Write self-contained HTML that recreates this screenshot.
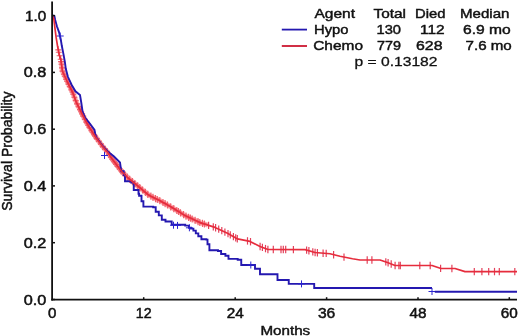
<!DOCTYPE html>
<html><head><meta charset="utf-8"><title>Survival Probability</title>
<style>
html,body{margin:0;padding:0;background:#fff;}
body{width:520px;height:336px;overflow:hidden;}
svg{display:block;filter:blur(0.4px);}
text{font-family:"Liberation Sans",Arial,Helvetica,sans-serif;font-size:136px;fill:#111;stroke:#111;stroke-width:4.5px;}
text.tk{font-size:141px;stroke-width:5px;}
text.yl{font-size:150px;stroke-width:5px;}
text.th{stroke-width:3px;}
</style></head><body>
<svg width="520" height="336" viewBox="0 0 520 336">
<rect width="520" height="336" fill="#fff"/>
<path d="M61.00 60.88 L62.50 71.25 L67.70 82.50 L72.70 92.50 L76.40 102.50 L80.80 111.25 L85.20 120.00 L90.20 128.75 L96.00 137.50 L102.50 146.25 L107.80 152.50 L112.00 158.75 L121.50 171.25 L127.50 177.50 L139.00 187.00 L148.50 195.00 L160.00 200.80 L172.50 207.80 L185.00 215.60 L200.00 222.60 L208.00 225.16" fill="none" stroke="#fb888c" stroke-width="5" opacity="0.7"/>
<g fill="none" stroke="#f05e6a" stroke-width="1.1"><path d="M58.3 46.3V53.5M55.3 49.9H61.3"/><path d="M58.8 48.7V55.9M55.8 52.3H61.8"/><path d="M59.6 52.2V59.4M56.6 55.8H62.6"/><path d="M60.7 55.6V62.8M57.7 59.2H63.7"/><path d="M61.1 58.0V65.2M58.1 61.6H64.1"/><path d="M61.5 60.7V67.9M58.5 64.3H64.5"/><path d="M62.0 64.3V71.5M59.0 67.9H65.0"/><path d="M62.5 67.5V74.7M59.5 71.1H65.5"/><path d="M63.9 70.7V77.9M60.9 74.3H66.9"/><path d="M64.8 72.6V79.8M61.8 76.2H67.8"/><path d="M66.3 75.8V83.0M63.3 79.4H69.3"/><path d="M67.1 77.6V84.8M64.1 81.2H70.1"/><path d="M68.5 80.5V87.7M65.5 84.1H71.5"/><path d="M69.8 83.0V90.2M66.8 86.6H72.8"/><path d="M71.4 86.3V93.5M68.4 89.9H74.4"/><path d="M72.4 88.4V95.6M69.4 92.0H75.4"/><path d="M73.3 90.6V97.8M70.3 94.2H76.3"/><path d="M74.4 93.6V100.8M71.4 97.2H77.4"/><path d="M75.7 97.0V104.2M72.7 100.6H78.7"/><path d="M77.1 100.3V107.5M74.1 103.9H80.1"/><path d="M78.5 103.2V110.4M75.5 106.8H81.5"/><path d="M80.0 106.0V113.2M77.0 109.6H83.0"/><path d="M81.1 108.2V115.4M78.1 111.8H84.1"/><path d="M82.1 110.3V117.5M79.1 113.9H85.1"/><path d="M83.2 112.5V119.7M80.2 116.1H86.2"/><path d="M84.8 115.7V122.9M81.8 119.3H87.8"/><path d="M86.4 118.5V125.7M83.4 122.1H89.4"/><path d="M87.4 120.2V127.4M84.4 123.8H90.4"/><path d="M88.4 121.9V129.1M85.4 125.5H91.4"/><path d="M89.6 124.0V131.2M86.6 127.6H92.6"/><path d="M91.5 127.1V134.3M88.5 130.7H94.5"/><path d="M92.6 128.7V135.9M89.6 132.3H95.6"/><path d="M94.1 131.1V138.3M91.1 134.7H97.1"/><path d="M95.2 132.7V139.9M92.2 136.3H98.2"/><path d="M96.8 135.0V142.2M93.8 138.6H99.8"/><path d="M98.8 137.6V144.8M95.8 141.2H101.8"/><path d="M100.9 140.5V147.7M97.9 144.1H103.9"/><path d="M102.8 143.0V150.2M99.8 146.6H105.8"/><path d="M104.9 145.5V152.7M101.9 149.1H107.9"/><path d="M107.0 147.9V155.1M104.0 151.5H110.0"/><path d="M109.1 150.8V158.0M106.1 154.4H112.1"/><path d="M110.9 153.5V160.7M107.9 157.1H113.9"/><path d="M112.2 155.5V162.7M109.2 159.1H115.2"/><path d="M113.9 157.7V164.9M110.9 161.3H116.9"/><path d="M115.1 159.3V166.5M112.1 162.9H118.1"/><path d="M116.3 160.9V168.1M113.3 164.5H119.3"/><path d="M117.8 162.8V170.0M114.8 166.4H120.8"/><path d="M119.7 165.3V172.5M116.7 168.9H122.7"/><path d="M121.2 167.2V174.4M118.2 170.8H124.2"/><path d="M123.1 169.3V176.5M120.1 172.9H126.1"/><path d="M125.3 171.6V178.8M122.3 175.2H128.3"/><path d="M127.2 173.6V180.8M124.2 177.2H130.2"/><path d="M129.7 175.7V182.9M126.7 179.3H132.7"/><path d="M132.5 178.0V185.2M129.5 181.6H135.5"/><path d="M134.9 180.0V187.2M131.9 183.6H137.9"/><path d="M137.7 182.3V189.5M134.7 185.9H140.7"/><path d="M139.8 184.1V191.3M136.8 187.7H142.8"/><path d="M142.6 186.4V193.6M139.6 190.0H145.6"/><path d="M145.4 188.8V196.0M142.4 192.4H148.4"/><path d="M147.8 190.8V198.0M144.8 194.4H150.8"/><path d="M150.9 192.6V199.8M147.9 196.2H153.9"/><path d="M153.0 193.7V200.9M150.0 197.3H156.0"/><path d="M155.5 195.0V202.2M152.5 198.6H158.5"/><path d="M157.3 195.9V203.1M154.3 199.5H160.3"/><path d="M159.8 197.1V204.3M156.8 200.7H162.8"/><path d="M163.0 198.9V206.1M160.0 202.5H166.0"/><path d="M165.1 200.0V207.2M162.1 203.6H168.1"/><path d="M167.5 201.4V208.6M164.5 205.0H170.5"/><path d="M170.7 203.2V210.4M167.7 206.8H173.7"/><path d="M173.8 205.0V212.2M170.8 208.6H176.8"/><path d="M176.8 206.9V214.1M173.8 210.5H179.8"/><path d="M178.5 207.9V215.1M175.5 211.5H181.5"/><path d="M180.5 209.2V216.4M177.5 212.8H183.5"/><path d="M183.6 211.1V218.3M180.6 214.7H186.6"/><path d="M186.0 212.5V219.7M183.0 216.1H189.0"/><path d="M188.6 213.7V220.9M185.6 217.3H191.6"/><path d="M190.4 214.5V221.7M187.4 218.1H193.4"/><path d="M192.2 215.4V222.6M189.2 219.0H195.2"/><path d="M195.1 216.7V223.9M192.1 220.3H198.1"/><path d="M198.0 218.1V225.3M195.0 221.7H201.0"/><path d="M199.8 218.9V226.1M196.8 222.5H202.8"/><path d="M202.5 219.8V227.0M199.5 223.4H205.5"/><path d="M204.4 220.4V227.6M201.4 224.0H207.4"/></g>
<g fill="none" stroke="#e4405a" stroke-width="1.2"><path d="M208.6 221.7V229.1"/><path d="M213.3 223.2V230.6"/><path d="M215.6 224.0V231.4"/><path d="M218.7 225.4V232.8"/><path d="M221.8 226.9V234.3"/><path d="M224.9 228.4V235.8"/><path d="M228.0 229.9V237.3"/><path d="M230.3 231.2V238.6"/><path d="M233.4 232.9V240.3"/><path d="M235.7 234.2V241.6"/><path d="M237.3 235.1V242.5"/><path d="M247.5 237.2V244.6"/><path d="M250.5 238.0V245.4"/><path d="M260.1 242.8V250.2"/><path d="M262.4 243.7V251.1"/><path d="M265.5 244.9V252.3"/><path d="M267.9 245.8V253.2"/><path d="M273.3 245.8V253.2"/><path d="M281.0 245.8V253.2"/><path d="M283.3 245.8V253.2"/><path d="M285.7 245.8V253.2"/><path d="M293.4 245.9V253.3"/><path d="M306.6 246.4V253.8"/><path d="M308.9 247.0V254.4"/><path d="M312.8 248.2V255.6"/><path d="M315.1 248.8V256.2"/><path d="M317.4 249.0V256.4"/><path d="M323.1 249.5V256.9"/><path d="M326.2 249.7V257.1"/><path d="M333.6 251.0V258.4"/><path d="M344.0 253.4V260.8"/><path d="M367.2 256.3V263.7"/><path d="M371.9 256.3V263.7"/><path d="M385.8 258.2V265.6"/><path d="M388.1 259.0V266.4"/><path d="M391.2 260.3V267.7"/><path d="M395.1 261.8V269.2"/><path d="M398.9 261.8V269.2"/><path d="M400.3 261.8V269.2"/><path d="M419.8 261.8V269.2"/><path d="M430.2 261.8V269.2"/><path d="M440.6 264.7V272.1"/><path d="M451.9 264.8V272.2"/><path d="M474.3 267.9V275.3"/><path d="M481.9 267.9V275.3"/><path d="M488.7 267.9V275.3"/><path d="M494.5 267.9V275.3"/><path d="M499.3 267.9V275.3"/><path d="M514.8 267.9V275.3"/></g>
<path d="M52.50 15.50 L54.40 16.00 L55.20 20.00 L56.90 26.30 L59.00 32.10 L60.80 39.50 L61.80 45.80 L63.50 54.40 L64.90 62.10 L65.80 68.80 L67.90 76.80 L71.70 85.00 L75.45 91.25 L80.00 95.00 L81.25 102.50 L82.50 111.25 L85.00 117.50 L90.00 123.75 L94.50 130.00 L95.20 134.00 L96.50 137.50 L102.90 146.25 L108.30 152.00 L113.75 156.25 L120.00 162.50 L121.25 171.25 H123.75 V175.00 H125.00 V181.25 H131.25 V182.50 H133.75 V190.00 H138.50 V193.75 H139.10 V195.70 H141.50 V201.20 H143.40 V206.60 H153.20 V207.20 H155.70 V211.70 H158.80 V215.40 H161.80 V219.70 H165.50 V221.50 H171.70 V224.80 H185.20 V225.60 H189.00 V227.70 H191.00 V228.60 H193.40 V230.60 H195.80 V233.40 H198.30 V236.20 H201.40 V239.20 H206.30 V239.60 H207.50 V244.20 H209.40 V250.30 H218.00 V251.00 H221.10 V254.00 H225.40 V255.80 H228.50 V258.90 H237.70 V259.80 H241.25 V265.00 H253.75 V265.00 H255.00 V268.75 H260.00 V274.25 H275.00 V274.25 H277.50 V280.00 H286.25 V280.00 H288.75 V283.90 H313.00 V283.90 H314.20 V288.00 H432.00 V288.00 H432.00 V288.00" fill="none" stroke="#2418b0" stroke-width="1.9" stroke-linejoin="miter"/>
<g fill="none" stroke="#2a24d0" stroke-width="1"><path d="M60.2 32.5V39.5M56.7 36.0H63.7"/><path d="M104.5 152.0V159.0M101.0 155.5H108.0"/><path d="M173.5 221.7V228.7M170.0 225.2H177.0"/><path d="M177.5 221.9V228.9M174.0 225.4H181.0"/><path d="M189.4 224.3V231.3M185.9 227.8H192.9"/><path d="M250.8 261.5V268.5M247.3 265.0H254.3"/><path d="M301.5 280.4V287.4M298.0 283.9H305.0"/><path d="M432.0 288.0V295.0M428.5 291.5H435.5"/></g>
<path d="M434.8 291.7H517" fill="none" stroke="#2418b0" stroke-width="1.9"/>
<path d="M52.50 15.50 L53.90 19.30 L55.00 28.60 L56.20 37.90 L57.70 47.20 L59.30 54.90 L60.80 59.50 L62.50 71.25 L67.70 82.50 L72.70 92.50 L76.40 102.50 L80.80 111.25 L85.20 120.00 L90.20 128.75 L96.00 137.50 L102.50 146.25 L107.80 152.50 L112.00 158.75 L121.50 171.25 L127.50 177.50 L139.00 187.00 L148.50 195.00 L160.00 200.80 L172.50 207.80 L185.00 215.60 L200.00 222.60 L215.00 227.40 L227.50 233.30 L237.50 238.90 L250.00 241.40 L260.00 246.50 L268.00 249.50 L305.00 249.60 L315.00 252.50 L330.00 253.75 L340.00 256.25 L352.50 258.75 L360.00 260.00 L380.00 260.00 L387.50 262.50 L395.00 265.50 L432.00 265.50 L441.00 268.50 L455.00 268.50 L465.00 271.60 L517.00 271.60" fill="none" stroke="#e62c3c" stroke-width="1.7" stroke-linejoin="round"/>
<g fill="none" stroke="#111" stroke-width="1.8">
<path d="M52.1 1.5V300.5"/><path d="M51.2 299.6H517"/>
</g>
<g fill="none" stroke="#111" stroke-width="1.5"><path d="M52 15.6H55"/><path d="M52 72.4H55"/><path d="M52 129.2H55"/><path d="M52 185.9H55"/><path d="M52 242.7H55"/><path d="M52 299.5H55"/><path d="M143.7 299.6V297.2"/><path d="M235.2 299.6V297.2"/><path d="M326.6 299.6V297.2"/><path d="M418.0 299.6V297.2"/><path d="M509.3 299.6V297.2"/></g>
<g transform="scale(0.1)"><text class="tk" x="463.0" y="206.0" textLength="212.0" lengthAdjust="spacingAndGlyphs" text-anchor="end">1.0</text><text class="tk" x="463.0" y="773.8" textLength="226.0" lengthAdjust="spacingAndGlyphs" text-anchor="end">0.8</text><text class="tk" x="463.0" y="1341.6" textLength="226.0" lengthAdjust="spacingAndGlyphs" text-anchor="end">0.6</text><text class="tk" x="463.0" y="1909.4" textLength="226.0" lengthAdjust="spacingAndGlyphs" text-anchor="end">0.4</text><text class="tk" x="463.0" y="2477.2" textLength="226.0" lengthAdjust="spacingAndGlyphs" text-anchor="end">0.2</text><text class="tk" x="463.0" y="3045.0" textLength="226.0" lengthAdjust="spacingAndGlyphs" text-anchor="end">0.0</text><text class="tk" x="523.0" y="3177.0" textLength="84.0" lengthAdjust="spacingAndGlyphs" text-anchor="middle">0</text><text class="tk" x="1437.0" y="3177.0" textLength="158.0" lengthAdjust="spacingAndGlyphs" text-anchor="middle">12</text><text class="tk" x="2352.0" y="3177.0" textLength="170.0" lengthAdjust="spacingAndGlyphs" text-anchor="middle">24</text><text class="tk" x="3266.0" y="3177.0" textLength="174.0" lengthAdjust="spacingAndGlyphs" text-anchor="middle">36</text><text class="tk" x="4180.0" y="3177.0" textLength="170.0" lengthAdjust="spacingAndGlyphs" text-anchor="middle">48</text><text class="tk" x="5093.0" y="3177.0" textLength="170.0" lengthAdjust="spacingAndGlyphs" text-anchor="middle">60</text>
<text class="yl" transform="translate(121,2108) rotate(-90)" textLength="498" lengthAdjust="spacingAndGlyphs">Survival</text><text class="yl" transform="translate(121,1570) rotate(-90)" textLength="655" lengthAdjust="spacingAndGlyphs">Probability</text>
<text x="3145.0" y="180.0" textLength="405.0" lengthAdjust="spacingAndGlyphs" text-anchor="start">Agent</text><text x="3735.0" y="180.0" textLength="325.0" lengthAdjust="spacingAndGlyphs" text-anchor="start">Total</text><text x="4150.0" y="180.0" textLength="305.0" lengthAdjust="spacingAndGlyphs" text-anchor="start">Died</text><text x="4600.0" y="180.0" textLength="495.0" lengthAdjust="spacingAndGlyphs" text-anchor="start">Median</text><text x="3140.0" y="338.0" textLength="345.0" lengthAdjust="spacingAndGlyphs" text-anchor="start">Hypo</text><text x="3765.0" y="338.0" textLength="245.0" lengthAdjust="spacingAndGlyphs" text-anchor="start">130</text><text x="4200.0" y="338.0" textLength="246.0" lengthAdjust="spacingAndGlyphs" text-anchor="start">112</text><text x="4630.0" y="339.0" textLength="478.0" lengthAdjust="spacingAndGlyphs" text-anchor="start">6.9 mo</text><text x="3132.0" y="500.0" textLength="498.0" lengthAdjust="spacingAndGlyphs" text-anchor="start">Chemo</text><text x="3770.0" y="500.0" textLength="240.0" lengthAdjust="spacingAndGlyphs" text-anchor="start">779</text><text x="4160.0" y="500.0" textLength="265.0" lengthAdjust="spacingAndGlyphs" text-anchor="start">628</text><text x="4655.0" y="500.0" textLength="463.0" lengthAdjust="spacingAndGlyphs" text-anchor="start">7.6 mo</text><text class="th" x="3545.0" y="663.0" textLength="830.0" lengthAdjust="spacingAndGlyphs" text-anchor="start">p = 0.13182</text><text x="2604.0" y="3350.0" textLength="498.0" lengthAdjust="spacingAndGlyphs" text-anchor="start">Months</text></g>
<path d="M281.8 29.6H307" stroke="#2418b0" stroke-width="1.8"/>
<path d="M281.8 46H307" stroke="#cc1830" stroke-width="1.8"/>
</svg>
</body></html>
